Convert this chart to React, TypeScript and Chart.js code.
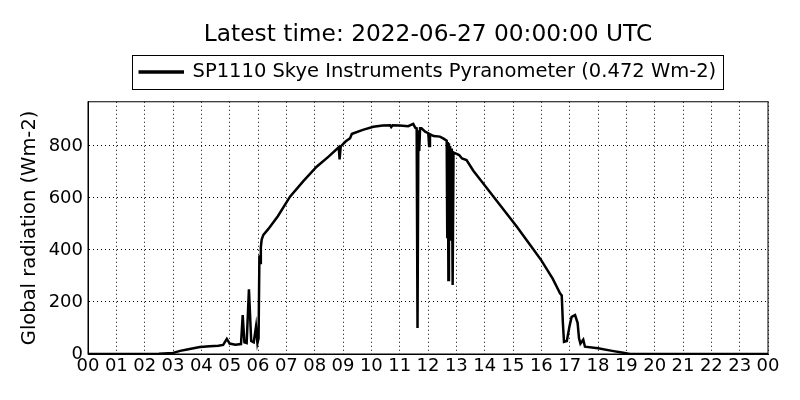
import { useEffect, useRef } from 'react'
import { Chart, ChartConfiguration, Plugin, registerables } from 'chart.js'

Chart.register(...registerables)

// hours after midnight (UTC)
const hours = [
  0, 1, 2, 2.5, 3, 3.25, 3.5, 3.95, 4.3, 4.6, 4.77, 4.9, 5.0, 5.2, 5.4, 5.46, 5.52, 5.6, 5.68, 5.76,
  5.85, 5.93, 5.98, 6.02, 6.05, 6.08, 6.1, 6.13, 6.19, 6.36, 6.7, 7.13, 7.6, 8.07, 8.5, 8.85, 8.88,
  8.92, 9.1, 9.25, 9.31, 9.35, 9.7, 10.07, 10.4, 10.66, 10.7, 10.75, 11.0, 11.3, 11.48, 11.55, 11.6,
  11.63, 11.66, 11.69, 11.72, 11.77, 11.9, 12.01, 12.04, 12.07, 12.2, 12.42, 12.55, 12.66, 12.68,
  12.7, 12.72, 12.74, 12.76, 12.78, 12.82, 12.84, 12.87, 12.9, 12.95, 13.1, 13.2, 13.36, 13.6,
  13.95, 14.54, 15.13, 15.6, 16.0, 16.4, 16.66, 16.72, 16.76, 16.8, 16.9, 17.0, 17.07, 17.19, 17.28,
  17.33, 17.38, 17.48, 17.54, 18.0, 18.5, 18.89, 19.13, 24,
]

// global radiation (Wm-2)
const radiation = [
  0, 0, 0, 1, 4, 12, 17, 27, 30, 32, 35, 58, 40, 36, 38, 150, 45, 42, 249, 50,
  45, 105, 42, 60, 380, 350, 410, 440, 458, 480, 530, 605, 665, 720, 760, 795, 748,
  798, 818, 830, 846, 848, 862, 874, 879, 880, 873, 880, 879, 876, 885, 870, 868,
  100, 860, 780, 868, 868, 855, 849, 800, 845, 838, 836, 828, 820, 450,
  815, 285, 810, 450, 800, 440, 790, 265, 775, 772, 765, 752, 746, 705,
  656, 573, 490, 420, 360, 290, 233, 225, 120, 47, 50, 110, 143, 150, 120,
  60, 40, 55, 28, 22, 12, 5, 0, 0,
]

const hourTicks = Array.from({ length: 25 }, (_, i) => i)
const hourLabels = [
  '00', '01', '02', '03', '04', '05', '06', '07', '08', '09', '10', '11',
  '12', '13', '14', '15', '16', '17', '18', '19', '20', '21', '22', '23', '00',
]
const radiationTicks = [0, 200, 400, 600, 800]

const FONT = 'DejaVu Sans'

// matplotlib-style frame around the plot and around the legend
const framePlugin: Plugin = {
  id: 'frame',
  afterDraw(chart) {
    const { ctx, chartArea } = chart
    ctx.save()
    ctx.strokeStyle = '#000'
    ctx.lineWidth = 1
    ctx.strokeRect(chartArea.left, chartArea.top, chartArea.right - chartArea.left, chartArea.bottom - chartArea.top)
    const hb = (chart.legend as any)?.legendHitBoxes?.[0]
    if (hb) {
      const l = Math.round(hb.left - 8) + 0.5
      const t = Math.round(hb.top - 7) + 0.5
      const r = Math.round(hb.left + hb.width + 7) + 0.5
      const b = Math.round(hb.top + hb.height + 7) + 0.5
      ctx.strokeRect(l, t, r - l, b - t)
    }
    ctx.restore()
  },
}

export default function App() {
  const canvasRef = useRef<HTMLCanvasElement>(null)

  useEffect(() => {
    document.body.style.margin = '0'
    if (!canvasRef.current) return
    const ctx = canvasRef.current.getContext('2d')
    if (!ctx) return

    const config: ChartConfiguration<'line'> = {
      type: 'line',
      data: {
        datasets: [
          {
            label: 'SP1110 Skye Instruments Pyranometer (0.472 Wm-2)',
            data: hours.map((h, i) => ({ x: h, y: radiation[i] })),
            borderColor: '#000',
            backgroundColor: '#000',
            borderWidth: 2.5,
            pointRadius: 0,
            tension: 0,
          },
        ],
      },
      options: {
        responsive: false,
        animation: false,
        layout: { padding: { left: 0, right: 32, top: 0, bottom: 0 } },
        plugins: {
          title: {
            display: true,
            fullSize: false,
            text: 'Latest time: 2022-06-27 00:00:00 UTC',
            color: '#000',
            font: { family: FONT, size: 23.3, weight: 'normal', lineHeight: 0.644 },
            padding: { top: 27, bottom: 0 },
          },
          legend: {
            display: true,
            fullSize: false,
            position: 'top',
            labels: {
              color: '#000',
              font: { family: FONT, size: 19.5 },
              boxWidth: 43,
              boxHeight: 1,
              padding: 20.25,
            },
          },
          tooltip: { enabled: false },
        },
        scales: {
          x: {
            type: 'linear',
            min: 0,
            max: 24,
            afterBuildTicks: (s) => {
              s.ticks = hourTicks.map((v) => ({ value: v }))
            },
            afterFit: (s) => {
              s.height = 46
            },
            ticks: {
              autoSkip: false,
              maxRotation: 0,
              padding: 2,
              color: '#000',
              font: { family: FONT, size: 18 },
              callback: (v) => hourLabels[Number(v)],
            },
            grid: { color: '#000', lineWidth: 1, drawTicks: false },
            border: { display: true, color: '#000', width: 1, dash: [1, 3] },
          },
          // empty top axis: only keeps the gap between legend and plot
          xTop: {
            type: 'linear',
            position: 'top',
            min: 0,
            max: 24,
            afterFit: (s) => {
              s.height = 10
            },
            ticks: { display: false },
            grid: { display: false, drawTicks: false },
            border: { display: false },
          },
          y: {
            type: 'linear',
            min: 0,
            max: 970,
            afterBuildTicks: (s) => {
              s.ticks = radiationTicks.map((v) => ({ value: v }))
            },
            afterFit: (s) => {
              s.width = 88
            },
            ticks: {
              padding: 5,
              color: '#000',
              font: { family: FONT, size: 18 },
            },
            title: {
              display: true,
              text: 'Global radiation (Wm-2)',
              color: '#000',
              font: { family: FONT, size: 19.5 },
              padding: { top: 18, bottom: 0 },
            },
            grid: { color: '#000', lineWidth: 1, drawTicks: false },
            border: { display: true, color: '#000', width: 1, dash: [1, 3] },
          },
        },
      },
      plugins: [framePlugin],
    }

    const chart = new Chart(ctx, config)
    return () => {
      chart.destroy()
    }
  }, [])

  return (
    <div style={{ width: 800, height: 400, background: '#fff' }}>
      <canvas ref={canvasRef} width={800} height={400} style={{ display: 'block' }} />
    </div>
  )
}
